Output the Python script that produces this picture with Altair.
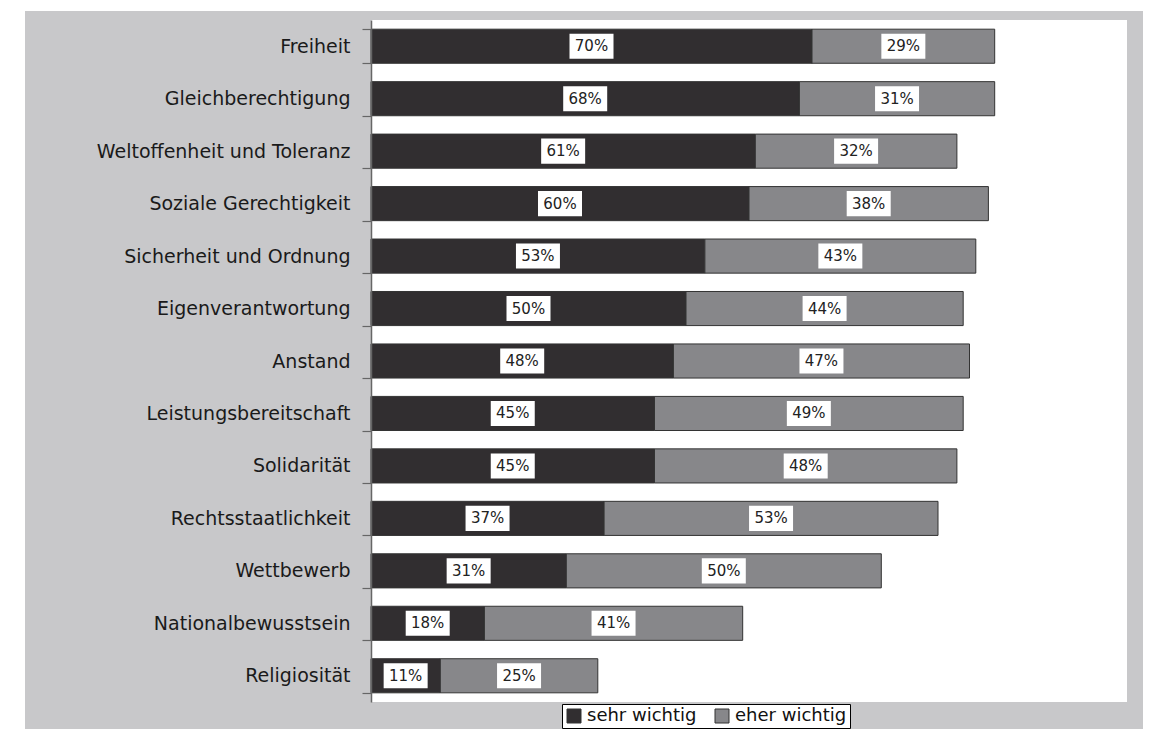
import altair as alt
import pandas as pd

categories = [
    "Freiheit", "Gleichberechtigung", "Weltoffenheit und Toleranz",
    "Soziale Gerechtigkeit", "Sicherheit und Ordnung", "Eigenverantwortung",
    "Anstand", "Leistungsbereitschaft", "Solidarität", "Rechtsstaatlichkeit",
    "Wettbewerb", "Nationalbewusstsein", "Religiosität",
]
sehr_wichtig = [70, 68, 61, 60, 53, 50, 48, 45, 45, 37, 31, 18, 11]
eher_wichtig = [29, 31, 32, 38, 43, 44, 47, 49, 48, 53, 50, 41, 25]
series = ["sehr wichtig", "eher wichtig"]
colors = ["#312e30", "#87878a"]

rows = []
for c, s, e in zip(categories, sehr_wichtig, eher_wichtig):
    rows.append({"cat": c, "series": series[0], "start": 0, "end": s,
                 "mid": s / 2, "label": f"{s}%"})
    rows.append({"cat": c, "series": series[1], "start": s, "end": s + e,
                 "mid": s + e / 2, "label": f"{e}%"})
df = pd.DataFrame(rows)

W, H = 756, 682
one = pd.DataFrame({"a": [0]})

bg = alt.Chart(one).mark_rect(color="#c8c8ca").encode(
    x=alt.value(-346), x2=alt.value(790), y=alt.value(-9), y2=alt.value(730)
)
plotbg = alt.Chart(one).mark_rect(color="white").encode(
    x=alt.value(0), x2=alt.value(W), y=alt.value(0), y2=alt.value(H)
)

yenc = alt.Y(
    "cat:N", sort=categories, title=None,
    scale=alt.Scale(paddingInner=0.35, paddingOuter=0.175),
    axis=alt.Axis(
        labelFont="DejaVu Sans", labelFontSize=19, labelColor="#1a1a1a",
        labelPadding=12, tickSize=9, tickBand="extent", tickColor="#666",
        tickWidth=1.2, domainColor="#666", domainWidth=1.5, zindex=1,
        labelLimit=400,
    ),
)
xscale = alt.Scale(domain=[0, 120], nice=False, zero=True)

bars = alt.Chart(df).mark_bar(stroke="#333", strokeWidth=1).encode(
    x=alt.X("start:Q", scale=xscale, axis=None),
    x2="end:Q",
    y=yenc,
    color=alt.Color(
        "series:N", scale=alt.Scale(domain=series, range=colors),
        sort=series, title=None,
    ),
)

boxes = alt.Chart(df).mark_point(
    shape="M-1,-0.57L1,-0.57L1,0.57L-1,0.57Z", size=1936, filled=True,
    fill="white", opacity=1, strokeWidth=0,
).encode(
    x=alt.X("mid:Q", scale=xscale, axis=None),
    y=alt.Y("cat:N", sort=categories),
)

texts = alt.Chart(df).mark_text(
    font="DejaVu Sans", fontSize=15, color="#222", align="center",
    baseline="middle",
).encode(
    x=alt.X("mid:Q", scale=xscale, axis=None),
    y=alt.Y("cat:N", sort=categories),
    text="label:N",
)

chart = alt.layer(bg, plotbg, bars, boxes, texts).properties(
    width=W, height=H,
    autosize=alt.AutoSizeParams(type="none"),
    padding={"left": 363, "top": 12, "right": 16, "bottom": 27},
    background="white",
).configure_view(stroke=None).configure_legend(
    orient="none", legendX=191, legendY=684, direction="horizontal",
    fillColor="white", strokeColor="#000", padding=3,
    labelFont="DejaVu Sans", labelFontSize=18, labelColor="#111",
    symbolType="square", symbolSize=196, symbolStrokeColor="#333",
    symbolStrokeWidth=1, columnPadding=16, labelOffset=4,
)

chart.save("out.html", embed_options={"renderer": "svg", "actions": False})
